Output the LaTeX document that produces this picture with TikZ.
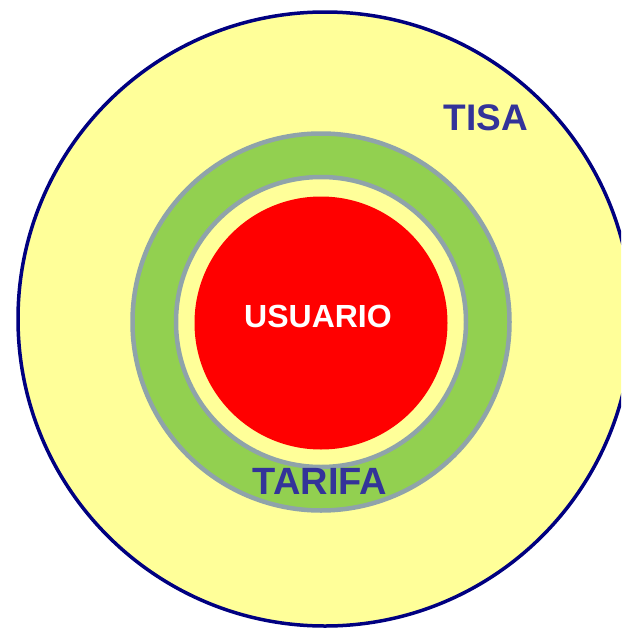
\documentclass[tikz,border=0pt]{standalone}
\usepackage{fontspec}
\setmainfont{Liberation Sans}
\definecolor{bgyellow}{HTML}{FFFF99}
\definecolor{ringgreen}{HTML}{92D050}
\definecolor{ringgray}{HTML}{8FA3AA}
\definecolor{navy}{HTML}{000080}
\definecolor{labelblue}{HTML}{333399}
\begin{document}
\begin{tikzpicture}[x=1pt,y=-1pt,
  lbl/.style={font=\bfseries\fontsize{#1}{#1}\selectfont, inner sep=0pt, anchor=center},
  lbl/.default=36]
\useasboundingbox (0,0) rectangle (621,629);
\begin{scope}
\clip (0,0) rectangle (621,629);
\node[circle, draw=navy, line width=3.5pt, fill=bgyellow, minimum size=614pt, inner sep=0pt] (tisa) at (325,319) {};
\end{scope}
\node[circle, draw=ringgray, line width=4.5pt, fill=ringgreen, minimum size=377pt, inner sep=0pt] (tarifa) at (321,322) {};
\node[circle, draw=ringgray, line width=4.5pt, fill=bgyellow, minimum size=290pt, inner sep=0pt] (inner) at (321,322) {};
\node[circle, fill=red, minimum size=253pt, inner sep=0pt] (usuario) at (321,323) {};
\node[lbl=37, text=labelblue] (tisalbl) at (486,118) {TISA};
\node[lbl=38, text=labelblue] (tarifalbl) at (320,481) {TARIFA};
\node[lbl=32, text=white] (usuariolbl) at (318,316) {USUARIO};
\end{tikzpicture}
\end{document}
